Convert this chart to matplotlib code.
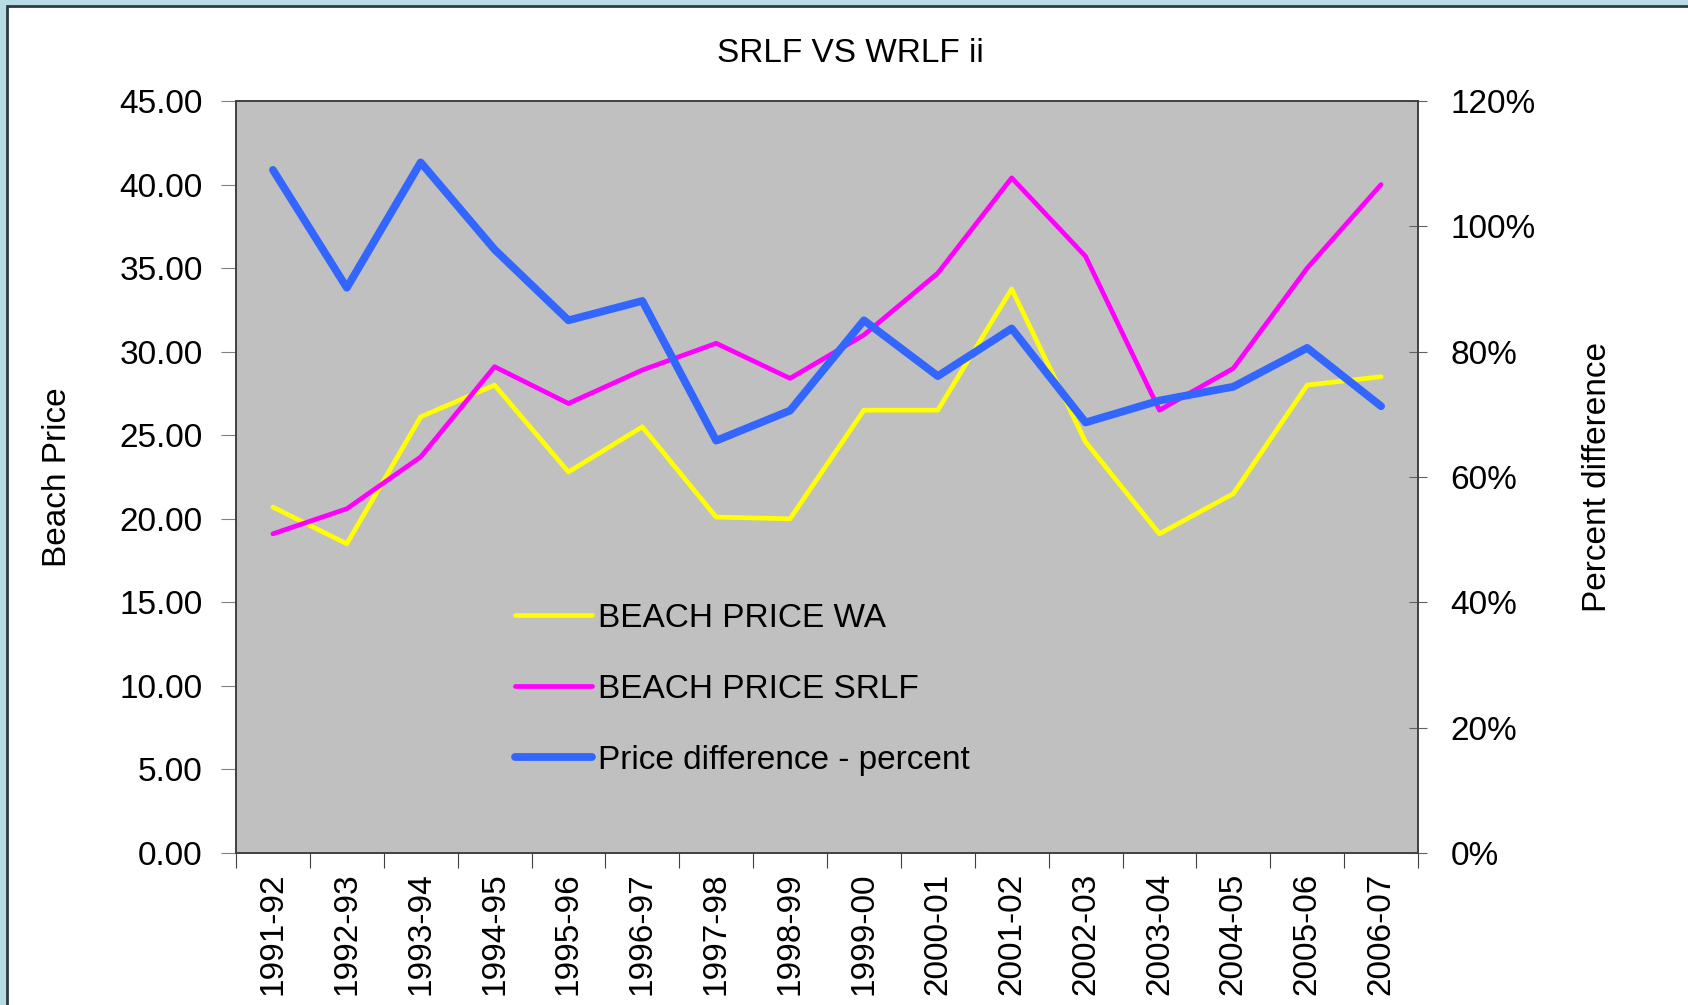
import matplotlib.pyplot as plt
from matplotlib.patches import Rectangle
from matplotlib.ticker import FuncFormatter

plt.rcParams['font.family'] = ['Liberation Sans', 'DejaVu Sans']

years = ['1991-92', '1992-93', '1993-94', '1994-95', '1995-96', '1996-97', '1997-98', '1998-99',
         '1999-00', '2000-01', '2001-02', '2002-03', '2003-04', '2004-05', '2005-06', '2006-07']
price_wa = [20.7, 18.5, 26.1, 28.0, 22.8, 25.5, 20.1, 20.0,
            26.5, 26.5, 33.75, 24.6, 19.1, 21.5, 28.0, 28.5]
price_srlf = [19.1, 20.6, 23.7, 29.1, 26.9, 28.9, 30.5, 28.4,
              31.0, 34.7, 40.4, 35.7, 26.5, 29.0, 35.0, 40.0]
pct_diff = [109.0, 90.2, 110.2, 96.3, 85.0, 88.1, 65.8, 70.6,
            85.0, 76.1, 83.7, 68.7, 72.2, 74.4, 80.6, 71.3]

fig = plt.figure(figsize=(16.88, 10.05), dpi=100)
fig.patch.set_facecolor('#b8dce6')
# white panel with dark edge (cut off at right/bottom)
fig.patches.append(Rectangle((7 / 1688, -0.1), 1.2, 1 - 6 / 1005 + 0.1, transform=fig.transFigure,
                             facecolor='white', edgecolor='#2e3a40', linewidth=2, zorder=-5))

ax = fig.add_axes([236 / 1688, 1 - 853 / 1005, (1418 - 236) / 1688, (853 - 101) / 1005])
ax.set_facecolor('#c0c0c0')
x = list(range(len(years)))
l1, = ax.plot(x, price_wa, color='#ffff00', linewidth=3.4, label='BEACH PRICE WA', solid_capstyle='round')
l2, = ax.plot(x, price_srlf, color='#ff00ff', linewidth=3.4, label='BEACH PRICE SRLF', solid_capstyle='round')
ax.set_xlim(-0.5, len(years) - 0.5)
ax.set_ylim(0, 45)
ax.set_yticks([0, 5, 10, 15, 20, 25, 30, 35, 40, 45])
ax.yaxis.set_major_formatter(FuncFormatter(lambda v, p: '%.2f' % v))
ax.set_xticks([i - 0.5 for i in range(len(years) + 1)])
ax.set_xticklabels([])
ax.set_xticks(x, minor=True)
ax.set_xticklabels(years, minor=True, rotation=90, fontsize=24)
ax.tick_params(axis='x', which='minor', length=0, pad=14)
ax.tick_params(axis='x', which='major', length=11, color='#404040', direction='out')
ax.tick_params(axis='y', length=11, color='#808080', labelsize=24, pad=13)
ax.set_ylabel('Beach Price', fontsize=24, labelpad=33)
for s in ax.spines.values():
    s.set_color('#404040')
    s.set_linewidth(1.2)

ax2 = ax.twinx()
l3, = ax2.plot(x, pct_diff, color='#3366ff', linewidth=5.6, label='Price difference - percent', solid_capstyle='round')
ax2.set_ylim(0, 120)
ax2.set_yticks([0, 20, 40, 60, 80, 100, 120])
ax2.yaxis.set_major_formatter(FuncFormatter(lambda v, p: '%d%%' % v))
ax2.tick_params(axis='y', length=13, color='#606060', direction='inout', labelsize=24, pad=17)
ax2.set_ylabel('Percent difference', fontsize=24, labelpad=33)
for s in ax2.spines.values():
    s.set_color('#404040')
    s.set_linewidth(1.2)

fig.text(850 / 1688, 1 - 54 / 1005, 'SRLF VS WRLF ii', fontsize=24, ha='center', va='center')

leg = ax2.legend(handles=[l1, l2, l3], loc='upper left', bbox_to_anchor=(515 / 1688, 1 - 603 / 1005),
                 bbox_transform=fig.transFigure, frameon=False, fontsize=24, handlelength=2.3,
                 handletextpad=0.2, labelspacing=1.2, borderpad=0, borderaxespad=0)

plt.savefig('out.png', dpi=100, facecolor=fig.get_facecolor())
